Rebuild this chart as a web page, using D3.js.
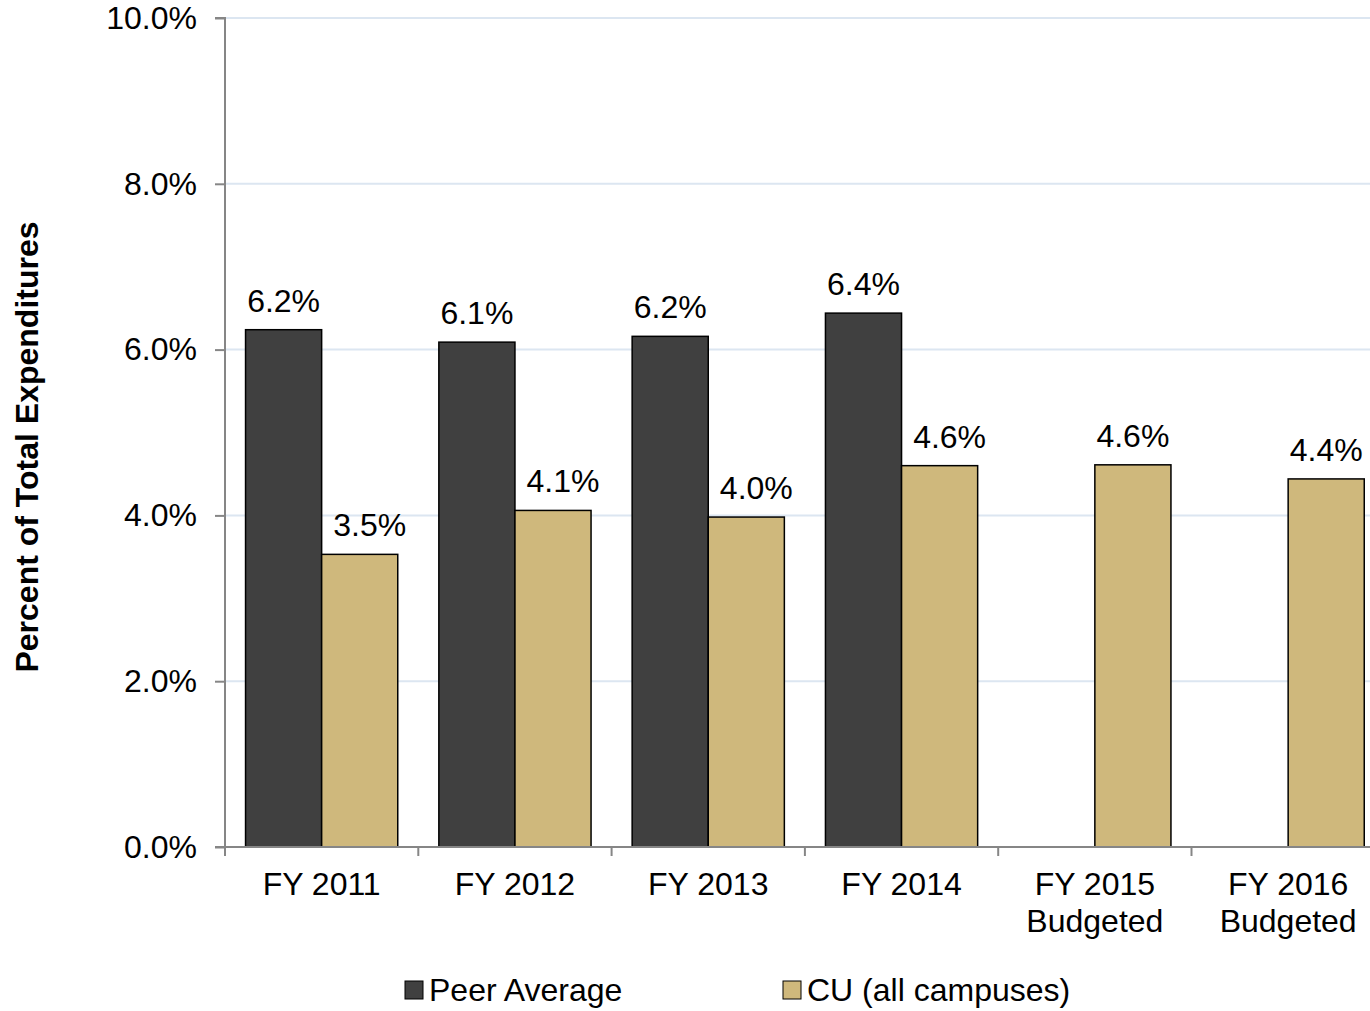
<!DOCTYPE html>
<html>
<head>
<meta charset="utf-8">
<script src="https://cdn.jsdelivr.net/npm/d3@7"></script>
<style>
  body { margin: 0; background: #fff; }
  svg text { font-family: "Liberation Sans", Arial, sans-serif; fill: #000; }
</style>
</head>
<body>
<div id="chart"></div>
<script>
// categories and series values
var categories = ["FY 2011", "FY 2012", "FY 2013", "FY 2014", "FY 2015\nBudgeted", "FY 2016\nBudgeted"];
var seriesNames = ["Peer Average", "CU (all campuses)"];
var peerValues = [6.24, 6.09, 6.16, 6.44, null, null];
var cuValues = [3.53, 4.06, 3.98, 4.60, 4.61, 4.44];
var yTicks = [0, 2, 4, 6, 8, 10];
var colors = ["#404040", "#cfb87c"];

var chart = {
    width: 1370,
    height: 1011,
    margin: {top: 18, left: 225, bottom: 164},
    font: "32px"
};

var svg = d3.select("#chart").append("svg")
    .attr("width", chart.width)
    .attr("height", chart.height);

// x: one band per fiscal year, chart runs a little past the right edge
var x = d3.scaleBand().domain(d3.range(categories.length))
    .range([chart.margin.left, chart.margin.left + 6 * 193.3])
    .padding(0);
var x1 = d3.scaleBand().domain([0, 1]).range([0, x.bandwidth()])
    .paddingInner(0).paddingOuter(0.27);
var y = d3.scaleLinear().domain([0, 10])
    .range([chart.height - chart.margin.bottom, chart.margin.top]);

// gridlines
svg.append("g").selectAll("line")
    .data(yTicks.slice(1))
    .enter().append("line")
    .attr("x1", chart.margin.left).attr("x2", chart.width)
    .attr("y1", function(d) { return y(d); })
    .attr("y2", function(d) { return y(d); })
    .attr("stroke", "#dce6f1")
    .attr("stroke-width", 2);

// bars
var rows = [];
categories.forEach(function(c, i) {
    [peerValues[i], cuValues[i]].forEach(function(v, s) {
        if (v != null) rows.push({i: i, s: s, v: v, paired: peerValues[i] != null});
    });
});

svg.append("g").selectAll("rect")
    .data(rows)
    .enter().append("rect")
    .attr("x", function(d) { return x(d.i) + x1(d.s); })
    .attr("y", function(d) { return y(d.v); })
    .attr("width", x1.bandwidth())
    .attr("height", function(d) { return y(0) - y(d.v); })
    .attr("fill", function(d) { return colors[d.s]; })
    .attr("stroke", "#000")
    .attr("stroke-width", 1.5);

// value labels (CU labels nudged right when sitting next to a peer bar)
svg.append("g").selectAll("text")
    .data(rows)
    .enter().append("text")
    .attr("x", function(d) { return x(d.i) + x1(d.s) + x1.bandwidth() / 2 + (d.s == 1 && d.paired ? 10 : 0); })
    .attr("y", function(d) { return y(d.v) - 18; })
    .attr("text-anchor", "middle")
    .style("font-size", chart.font)
    .text(function(d) { return d.v.toFixed(1) + "%"; });

// y axis
var yAxis = svg.append("g")
    .attr("transform", "translate(" + chart.margin.left + ",0)")
    .call(d3.axisLeft(y).tickValues(yTicks).tickSize(10).tickPadding(18)
        .tickFormat(function(d) { return d.toFixed(1) + "%"; }));
yAxis.selectAll("path, line").attr("stroke", "#868686").attr("stroke-width", 2);
yAxis.select(".domain").attr("d", "M-10," + y(10) + "H0V" + y(0) + "H-10");
yAxis.selectAll("text").style("font-size", chart.font).attr("fill", "#000")
    .attr("font-family", null);

// x axis: ticks on the category boundaries
var xAxis = svg.append("g").attr("transform", "translate(0," + y(0) + ")");
xAxis.append("line")
    .attr("x1", chart.margin.left).attr("x2", chart.width)
    .attr("stroke", "#868686").attr("stroke-width", 2);
xAxis.selectAll(".tick")
    .data(d3.range(categories.length))
    .enter().append("line")
    .attr("x1", function(d) { return x(d); })
    .attr("x2", function(d) { return x(d); })
    .attr("y1", 0).attr("y2", 9)
    .attr("stroke", "#868686").attr("stroke-width", 2);

var xLabels = xAxis.selectAll(".lbl")
    .data(categories)
    .enter().append("text")
    .attr("text-anchor", "middle")
    .style("font-size", chart.font)
    .attr("transform", function(d, i) { return "translate(" + (x(i) + x.bandwidth() / 2) + ",48)"; });
xLabels.selectAll("tspan")
    .data(function(d) { return d.split("\n"); })
    .enter().append("tspan")
    .attr("x", 0)
    .attr("y", function(d, j) { return j * 37; })
    .text(function(d) { return d; });

// y axis title
svg.append("text")
    .attr("transform", "translate(38,447) rotate(-90)")
    .attr("text-anchor", "middle")
    .style("font-size", chart.font)
    .style("font-weight", "bold")
    .text("Percent of Total Expenditures");

// legend
var legendX = [405, 783];
var legend = svg.append("g").selectAll("g")
    .data(seriesNames)
    .enter().append("g")
    .attr("transform", function(d, i) { return "translate(" + legendX[i] + ",981)"; });
legend.append("rect")
    .attr("width", 18).attr("height", 18)
    .attr("fill", function(d, i) { return colors[i]; })
    .attr("stroke", "#000").attr("stroke-width", 1);
legend.append("text")
    .attr("x", 24).attr("y", 20)
    .style("font-size", chart.font)
    .text(function(d) { return d; });
</script>
</body>
</html>
